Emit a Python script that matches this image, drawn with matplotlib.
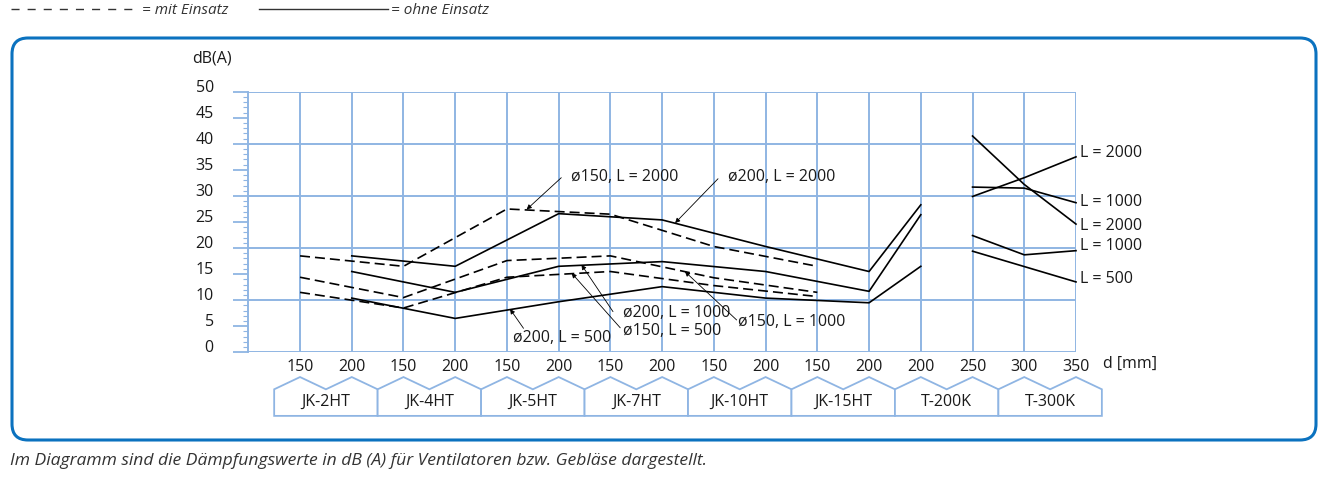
import matplotlib
matplotlib.use('Agg')
import matplotlib.pyplot as plt
from matplotlib.patches import FancyBboxPatch, Polygon
from matplotlib.lines import Line2D
from matplotlib.ticker import MultipleLocator
from matplotlib.transforms import ScaledTranslation, IdentityTransform

plt.rcParams['font.family'] = ['Open Sans', 'DejaVu Sans']
plt.rcParams['font.size'] = 11.5

GRID = '#8fb5e3'
FRAME = '#0b72bf'
INK = '#1a1a1a'

# category axis: one tick per nominal diameter, two per unit
tick_labels = ['150', '200'] * 6 + ['200', '250', '300', '350']
products = ['JK-2HT', 'JK-4HT', 'JK-5HT', 'JK-7HT', 'JK-10HT', 'JK-15HT', 'T-200K', 'T-300K']

# dashed (mit Einsatz), sitting on the "150" ticks of the JK units
x_d150 = [0, 2, 4, 6, 8, 10]
d150_l2000 = [18.5, 16.5, 27.5, 26.5, 20.3, 16.5]
d150_l1000 = [14.4, 10.5, 17.6, 18.5, 14.3, 11.5]
d150_l500 = [11.5, 8.5, 14.4, 15.5, 12.8, 10.7]

# solid (ohne Einsatz), "200" ticks of the JK units plus T-200K/200
x_d200 = [1, 3, 5, 7, 9, 11, 12]
d200_l2000 = [18.5, 16.5, 26.6, 25.4, 20.3, 15.5, 28.3]
d200_l1000 = [15.5, 11.5, 16.5, 17.4, 15.5, 11.7, 26.4]
d200_l500 = [10.4, 6.5, 9.7, 12.6, 10.4, 9.5, 16.5]

# T-200K/250 and T-300K
x_t = [13, 14, 15]
t_l2000_a = [41.5, 32.2, 24.6]
t_l2000_b = [29.9, 33.5, 37.5]
t_l1000_a = [31.7, 31.5, 28.7]
t_l1000_b = [22.4, 18.7, 19.5]
t_l500 = [19.4, 16.45, 13.5]

right_labels = ['L = 2000', 'L = 1000', 'L = 2000', 'L = 1000', 'L = 500']
right_label_y = [38.3, 28.8, 24.2, 20.3, 14.0]

# (text, text anchor, arrow tail, arrow tip)
callouts = [
    ('ø150, L = 2000', (5.24, 33.7), (5.05, 33.5), (4.38, 27.4)),
    ('ø200, L = 2000', (8.27, 33.6), (8.08, 33.3), (7.25, 24.8)),
    ('ø200, L = 1000', (6.24, 7.6), (6.05, 7.8), (5.44, 16.8)),
    ('ø150, L = 500', (6.24, 4.15), (6.19, 4.7), (5.25, 15.2)),
    ('ø150, L = 1000', (8.47, 5.9), (8.44, 6.2), (7.44, 15.5)),
    ('ø200, L = 500', (4.12, 2.7), (4.32, 4.6), (4.06, 8.3)),
]

fig = plt.figure(figsize=(13.36, 4.82), dpi=100)
ax = fig.add_axes([248.3 / 1336, 129.7 / 482, 827.7 / 1336, 260.6 / 482])
ax.set_xlim(-1, 15)
ax.set_ylim(0, 50)

# grid
ax.hlines(range(0, 51, 10), -1, 15, color=GRID, lw=1.4, zorder=0)
ax.vlines(range(len(tick_labels)), 0, 50, color=GRID, lw=1.4, zorder=0)
for s in ['top', 'right', 'bottom']:
    ax.spines[s].set_visible(False)
ax.spines['left'].set_color(GRID)
ax.spines['left'].set_linewidth(1.4)

ax.set_yticks(range(0, 51, 5), [str(v) for v in range(0, 51, 5)])
ax.yaxis.set_minor_locator(MultipleLocator(1))
ax.tick_params(axis='y', which='major', length=10.8, width=1.3, color=GRID,
               pad=14, labelcolor=INK)
ax.tick_params(axis='y', which='minor', length=3.6, width=0.8, color=GRID)
for lab in ax.get_yticklabels():
    lab.set_transform(lab.get_transform() + ScaledTranslation(0, 0.06, fig.dpi_scale_trans))

ax.set_xticks(range(len(tick_labels)), tick_labels)
ax.tick_params(axis='x', length=0, pad=5, labelcolor=INK)
ax.text(15.52, -2.3, 'd [mm]', va='center', ha='left', color=INK, clip_on=False)
ax.text(-2.09, 56.4, 'dB(A)', va='center', ha='left', color=INK, clip_on=False)

# curves
dash = (6, 3)
for ys in [d150_l2000, d150_l1000, d150_l500]:
    ax.plot(x_d150, ys, color='black', lw=1.2, dashes=dash, clip_on=False)
for ys in [d200_l2000, d200_l1000, d200_l500]:
    ax.plot(x_d200, ys, color='black', lw=1.2, clip_on=False)
for ys in [t_l2000_a, t_l2000_b, t_l1000_a, t_l1000_b, t_l500]:
    ax.plot(x_t, ys, color='black', lw=1.2, clip_on=False)

for txt, y in zip(right_labels, right_label_y):
    ax.text(15.08, y, txt, va='center', ha='left', color=INK, clip_on=False)

for txt, tpos, tail, tip in callouts:
    ax.text(tpos[0], tpos[1], txt, va='center', ha='left', color=INK)
    ax.annotate('', xy=tip, xytext=tail,
                arrowprops=dict(arrowstyle='-|>', color='black', lw=0.6,
                                mutation_scale=7, shrinkA=0, shrinkB=0))

# unit boxes under the tick pairs
peak, shoulder, bottom = -4.75, -7.1, -12.2
for k, name in enumerate(products):
    x0 = 2 * k
    verts = [(x0 - 0.5, bottom), (x0 - 0.5, shoulder), (x0, peak), (x0 + 0.5, shoulder),
             (x0 + 1, peak), (x0 + 1.5, shoulder), (x0 + 1.5, bottom)]
    ax.add_patch(Polygon(verts, closed=True, facecolor='white', edgecolor=GRID,
                         lw=1.3, clip_on=False))
    ax.text(x0 + 0.5, -9.5, name, ha='center', va='center', color=INK, clip_on=False)

# frame around the chart
frame = FancyBboxPatch((12, 42), 1304, 402, boxstyle='round,pad=0,rounding_size=16',
                       transform=IdentityTransform(), facecolor='none',
                       edgecolor=FRAME, lw=2.2)
fig.add_artist(frame)

# legend line on top
handles = [Line2D([], [], color='#333333', lw=1.0, dashes=(5.8, 5.8)),
           Line2D([], [], color='#333333', lw=1.0)]
fig.legend(handles, ['= mit Einsatz', '= ohne Einsatz'], loc='upper left',
           bbox_to_anchor=(8 / 1336, 1.0), ncol=2, frameon=False, handlelength=8.4,
           handletextpad=0.2, columnspacing=2.0, borderaxespad=0.0, borderpad=0.2,
           prop={'style': 'italic', 'size': 11}, labelcolor='#333333')

fig.text(10 / 1336, 1 - 461 / 482,
         'Im Diagramm sind die Dämpfungswerte in dB (A) für Ventilatoren bzw. Gebläse dargestellt.',
         style='italic', va='center', ha='left', size=12.6, color='#333333')

fig.savefig('out.png', dpi=100)
